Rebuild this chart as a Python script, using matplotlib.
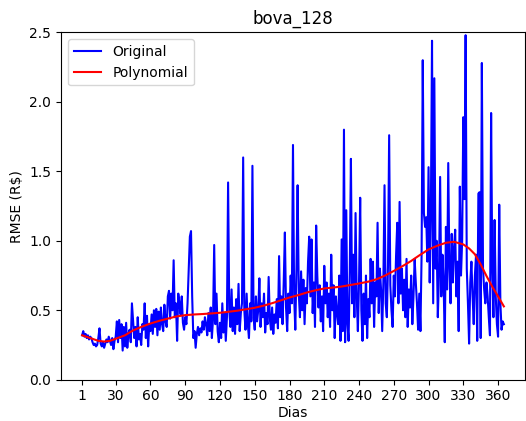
import numpy as np
import matplotlib.pyplot as plt

# RMSE diario (R$), dias 1..365
rmse = [
    0.32, 0.35, 0.31, 0.33, 0.30, 0.32, 0.29, 0.31, 0.30, 0.27, 0.25, 0.26, 0.24, 0.25, 0.30,
    0.37, 0.26, 0.24, 0.27, 0.23, 0.26, 0.29, 0.27, 0.31, 0.28, 0.25, 0.30, 0.22, 0.28, 0.31,
    0.42, 0.27, 0.43, 0.30, 0.40, 0.21, 0.38, 0.24, 0.41, 0.23, 0.33, 0.36, 0.27, 0.55, 0.42,
    0.30, 0.38, 0.24, 0.45, 0.29, 0.33, 0.25, 0.40, 0.36, 0.55, 0.30, 0.46, 0.24, 0.40, 0.35,
    0.47, 0.33, 0.50, 0.38, 0.51, 0.32, 0.49, 0.36, 0.52, 0.40, 0.35, 0.54, 0.42, 0.38, 0.60,
    0.64, 0.44, 0.62, 0.50, 0.86, 0.45, 0.55, 0.28, 0.62, 0.55, 0.47, 0.60, 0.41, 0.36, 0.45,
    0.40, 0.55, 0.80, 1.03, 1.07, 0.60, 0.30, 0.35, 0.23, 0.33, 0.38, 0.32, 0.37, 0.34, 0.42,
    0.36, 0.45, 0.40, 0.32, 0.48, 0.35, 0.52, 0.30, 0.44, 0.97, 0.40, 0.62, 0.35, 0.27, 0.41,
    0.30, 0.55, 0.34, 0.48, 0.28, 0.45, 1.42, 0.50, 0.38, 0.65, 0.35, 0.52, 0.33, 0.58, 0.40,
    0.69, 0.35, 0.48, 0.55, 1.60, 0.50, 0.36, 0.62, 0.40, 0.30, 0.55, 0.42, 1.54, 0.45, 0.36,
    0.60, 0.42, 0.50, 0.73, 0.38, 0.55, 0.45, 0.62, 0.34, 0.48, 0.40, 0.74, 0.44, 0.36, 0.52,
    0.33, 0.47, 0.41, 0.58, 0.37, 0.89, 0.45, 0.60, 0.40, 0.70, 1.06, 0.52, 0.35, 0.62, 0.48,
    0.75, 0.55, 1.69, 0.60, 0.36, 0.80, 1.40, 0.62, 0.45, 0.78, 0.50, 0.72, 0.40, 0.66, 0.55,
    0.85, 1.03, 0.60, 1.01, 0.48, 0.70, 0.38, 1.11, 0.75, 0.52, 0.68, 0.42, 0.60, 0.35, 0.82,
    0.55, 0.70, 0.45, 0.62, 0.38, 0.90, 0.50, 0.68, 0.30, 0.60, 0.48, 0.40, 0.75, 0.28, 1.01,
    0.35, 1.80, 0.27, 1.22, 0.40, 0.28, 0.78, 1.59, 0.55, 0.90, 0.45, 1.20, 0.60, 0.35, 0.70,
    1.31, 0.50, 0.28, 0.62, 0.40, 0.75, 0.30, 0.58, 0.45, 0.87, 0.55, 0.85, 0.38, 0.70, 0.60,
    1.13, 0.48, 0.80, 0.65, 0.35, 0.70, 1.40, 0.55, 0.45, 0.82, 1.76, 0.68, 0.50, 0.38, 0.75,
    0.60, 0.90, 1.13, 0.55, 1.28, 0.62, 0.80, 0.50, 0.72, 0.45, 0.87, 0.38, 0.65, 0.52, 0.75,
    0.40, 0.60, 0.87, 0.70, 0.55, 0.36, 0.62, 0.35, 0.90, 2.30, 1.20, 1.10, 1.17, 0.85, 1.53,
    0.70, 1.20, 2.44, 0.55, 2.17, 0.80, 1.00, 0.45, 0.75, 1.46, 0.60, 0.90, 0.70, 0.27, 1.10,
    0.65, 1.56, 0.80, 0.55, 1.05, 0.70, 0.95, 1.08, 0.60, 0.85, 0.35, 1.39, 0.75, 1.00, 1.89,
    1.30, 2.48, 0.80, 0.55, 0.26, 0.70, 0.85, 0.60, 0.40, 0.75, 0.90, 0.28, 1.34, 1.35, 0.30,
    2.28, 0.80, 0.65, 0.55, 0.70, 0.60, 0.45, 0.32, 1.92, 0.80, 0.45, 1.15, 0.60, 0.40, 0.31,
    1.26, 0.55, 0.36, 0.42, 0.40,
]
dias = np.arange(1, len(rmse) + 1)

# curva polinomial
poly_dias = [1, 8, 15, 20, 25, 30, 38, 45, 52, 60, 68, 75, 82, 90, 98, 105, 112, 120, 128,
             135, 142, 150, 158, 165, 172, 180, 188, 195, 202, 210, 218, 225, 232, 240, 248,
             255, 262, 270, 278, 285, 292, 300, 308, 315, 322, 330, 335, 340, 345, 350, 355,
             360, 365]
poly_vals = [0.32, 0.30, 0.28, 0.275, 0.28, 0.295, 0.32, 0.355, 0.38, 0.405, 0.425, 0.44, 0.455,
             0.465, 0.47, 0.473, 0.477, 0.482, 0.49, 0.497, 0.507, 0.518, 0.534, 0.551, 0.57,
             0.592, 0.61, 0.628, 0.643, 0.657, 0.664, 0.671, 0.681, 0.693, 0.706, 0.723, 0.748,
             0.783, 0.82, 0.855, 0.895, 0.938, 0.966, 0.986, 0.993, 0.974, 0.945, 0.903, 0.83,
             0.747, 0.67, 0.60, 0.528]

fig = plt.figure(figsize=(5.26, 4.21), dpi=100)
ax = fig.add_axes([0.116, 0.098, 0.882, 0.825])
ax.plot(dias, rmse, color='blue', label='Original')
ax.plot(poly_dias, poly_vals, color='red', label='Polynomial')
ax.set_xticks([1] + list(range(30, 361, 30)))
ax.set_ylim(0, 2.5)
ax.set_title('bova_128')
ax.set_xlabel('Dias', labelpad=2)
ax.set_ylabel('RMSE (R\\$)')
ax.legend(loc='upper left')

plt.savefig('out.png', dpi=100)
plt.close()
